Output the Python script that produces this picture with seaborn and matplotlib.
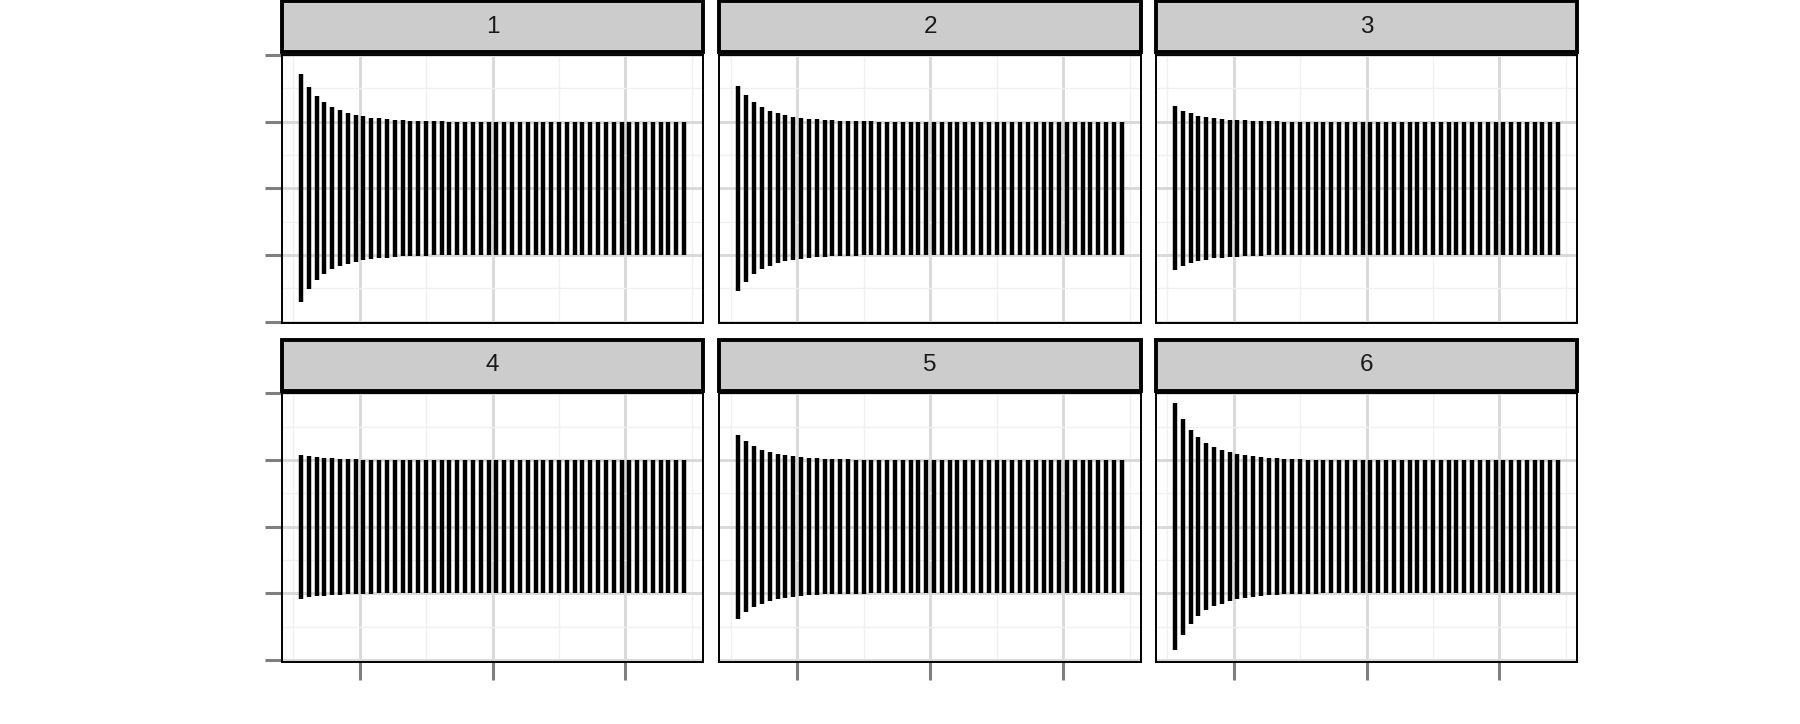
import pandas as pd
import seaborn as sns
import matplotlib.pyplot as plt
from matplotlib.patches import Rectangle

# facet labels and lag positions
panels = ['1', '2', '3', '4', '5', '6']
lags = list(range(1, 51))

# half-width of each interval (bars run from -v to +v)
p1 = [0.855, 0.758, 0.690, 0.645, 0.608, 0.585, 0.567, 0.552, 0.540, 0.530,
      0.525, 0.520, 0.515, 0.511, 0.508, 0.506, 0.504, 0.503, 0.502, 0.501,
      0.5, 0.5, 0.5, 0.5, 0.5, 0.5, 0.5, 0.5, 0.5, 0.5,
      0.5, 0.5, 0.5, 0.5, 0.5, 0.5, 0.5, 0.5, 0.5, 0.5,
      0.5, 0.5, 0.5, 0.5, 0.5, 0.5, 0.5, 0.5, 0.5, 0.5]
p2 = [0.770, 0.700, 0.645, 0.608, 0.580, 0.563, 0.548, 0.535, 0.528, 0.522,
      0.518, 0.512, 0.510, 0.508, 0.505, 0.504, 0.503, 0.502, 0.501, 0.5,
      0.5, 0.5, 0.5, 0.5, 0.5, 0.5, 0.5, 0.5, 0.5, 0.5,
      0.5, 0.5, 0.5, 0.5, 0.5, 0.5, 0.5, 0.5, 0.5, 0.5,
      0.5, 0.5, 0.5, 0.5, 0.5, 0.5, 0.5, 0.5, 0.5, 0.5]
p3 = [0.615, 0.583, 0.563, 0.545, 0.535, 0.525, 0.520, 0.515, 0.512, 0.510,
      0.507, 0.505, 0.503, 0.502, 0.501, 0.5, 0.5, 0.5, 0.5, 0.5,
      0.5, 0.5, 0.5, 0.5, 0.5, 0.5, 0.5, 0.5, 0.5, 0.5,
      0.5, 0.5, 0.5, 0.5, 0.5, 0.5, 0.5, 0.5, 0.5, 0.5,
      0.5, 0.5, 0.5, 0.5, 0.5, 0.5, 0.5, 0.5, 0.5, 0.5]
p4 = [0.540, 0.530, 0.522, 0.517, 0.512, 0.510, 0.507, 0.505, 0.503, 0.502,
      0.501, 0.5, 0.5, 0.5, 0.5, 0.5, 0.5, 0.5, 0.5, 0.5,
      0.5, 0.5, 0.5, 0.5, 0.5, 0.5, 0.5, 0.5, 0.5, 0.5,
      0.5, 0.5, 0.5, 0.5, 0.5, 0.5, 0.5, 0.5, 0.5, 0.5,
      0.5, 0.5, 0.5, 0.5, 0.5, 0.5, 0.5, 0.5, 0.5, 0.5]
p5 = [0.690, 0.640, 0.605, 0.578, 0.560, 0.545, 0.535, 0.527, 0.520, 0.515,
      0.512, 0.509, 0.507, 0.505, 0.504, 0.503, 0.502, 0.501, 0.5, 0.5,
      0.5, 0.5, 0.5, 0.5, 0.5, 0.5, 0.5, 0.5, 0.5, 0.5,
      0.5, 0.5, 0.5, 0.5, 0.5, 0.5, 0.5, 0.5, 0.5, 0.5,
      0.5, 0.5, 0.5, 0.5, 0.5, 0.5, 0.5, 0.5, 0.5, 0.5]
p6 = [0.928, 0.810, 0.728, 0.670, 0.628, 0.598, 0.578, 0.557, 0.545, 0.535,
      0.527, 0.520, 0.515, 0.512, 0.509, 0.507, 0.504, 0.503, 0.502, 0.501,
      0.5, 0.5, 0.5, 0.5, 0.5, 0.5, 0.5, 0.5, 0.5, 0.5,
      0.5, 0.5, 0.5, 0.5, 0.5, 0.5, 0.5, 0.5, 0.5, 0.5,
      0.5, 0.5, 0.5, 0.5, 0.5, 0.5, 0.5, 0.5, 0.5, 0.5]

# axis breaks (labels are blank in the reference)
x_major = [8.5, 25.5, 42.5]
x_minor = [0, 17, 34, 51]
y_major = [-1, -0.5, 0, 0.5, 1]
y_minor = [-0.75, -0.25, 0.25, 0.75]

rows = []
for name, vals in zip(panels, [p1, p2, p3, p4, p5, p6]):
    for lag, v in zip(lags, vals):
        rows.append({'panel': name, 'lag': lag, 'lower': -v, 'upper': v})
df = pd.DataFrame(rows)

sns.set_theme(style='white')
plt.rcParams['font.family'] = ['Liberation Sans', 'DejaVu Sans']

g = sns.FacetGrid(df, col='panel', col_wrap=3, col_order=panels,
                  height=3, aspect=1.5, sharex=True, sharey=True)


def ranges(data, **kws):
    plt.gca().vlines(data['lag'], data['lower'], data['upper'],
                     colors='black', linewidth=3.2, capstyle='butt')


g.map_dataframe(ranges)
g.set_axis_labels('', '')

fig = g.figure
fig.set_size_inches(18, 7.24)
W, H = 1800.0, 724.0

lefts = [281.7, 719.3, 1155.7]
pw = 421.6
tops = [55.0, 393.3]
bottoms = [323.3, 661.5]

for i, ax in enumerate(g.axes.flat):
    r, c = divmod(i, 3)
    ax.set_position([lefts[c] / W, (H - bottoms[r]) / H,
                     pw / W, (bottoms[r] - tops[r]) / H])
    ax.set_title('')
    ax.set_xlim(-1.45, 52.45)
    ax.set_ylim(-1.012, 1.0)
    ax.set_xticks(x_major)
    ax.set_xticks(x_minor, minor=True)
    ax.set_yticks(y_major)
    ax.set_yticks(y_minor, minor=True)
    ax.set_axisbelow(True)
    ax.grid(which='major', color='#d9d9d9', linewidth=2.1)
    ax.grid(which='minor', color='#f0f0f0', linewidth=1.0)
    ax.tick_params(which='major', direction='out', length=12.6, width=2.2,
                   color='#7f7f7f', labelleft=False, labelbottom=False,
                   left=(c == 0), bottom=(r == 1))
    ax.tick_params(which='minor', length=0)
    for s in ax.spines.values():
        s.set_visible(True)
        s.set_color('black')
        s.set_linewidth(1.4)

    # strip on top of each panel
    ph = bottoms[r] - tops[r]
    ax.add_patch(Rectangle((0, 1 + 2.8 / ph), 1, 51.0 / ph,
                           transform=ax.transAxes, clip_on=False,
                           facecolor='#cccccc', edgecolor='black',
                           linewidth=2.8, zorder=5))
    ax.text(0.5, 1 + 28.3 / ph, panels[i], transform=ax.transAxes,
            ha='center', va='center', fontsize=17.5, color='#1a1a1a',
            zorder=6)

fig.savefig('out.png', dpi=100)
